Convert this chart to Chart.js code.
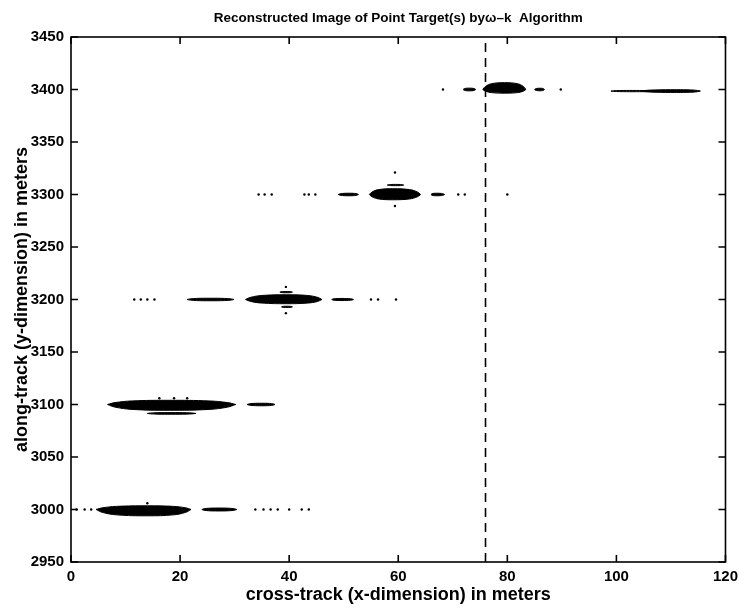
<!DOCTYPE html>
<html>
<head>
<meta charset="utf-8">
<title>Reconstructed Image of Point Target(s)</title>
<script src="https://cdn.jsdelivr.net/npm/chart.js@4.4.1/dist/chart.umd.min.js"></script>
<style>
  html, body { margin: 0; padding: 0; background: #fff; }
  canvas { display: block; }
</style>
</head>
<body>
<canvas id="wkChart" width="744" height="608"></canvas>
<script>
const chartTitle = 'Reconstructed Image of Point Target(s) by\u03c9\u2013k  Algorithm';
const xTicks = [0, 20, 40, 60, 80, 100, 120];
const yTicks = [2950, 3000, 3050, 3100, 3150, 3200, 3250, 3300, 3350, 3400, 3450];
const cutX = 76;

// streaks: [start x, end x, peak x, row y, half height above, half height below]
const streaks = [
  [4.6, 22.0, 14.0, 3000, 3.5, 6.0],
  [24.0, 30.4, 27.0, 3000, 1.4, 1.4],
  [6.7, 30.2, 18.0, 3100, 4.0, 5.5],
  [14.0, 22.9, 18.5, 3091.5, 0.8, 0.8],
  [32.3, 37.4, 35.0, 3100, 1.2, 1.2],
  [32.0, 46.0, 39.5, 3200, 4.5, 4.0],
  [21.3, 29.9, 25.5, 3200, 1.2, 1.2],
  [47.8, 51.8, 49.5, 3200, 1.0, 1.0],
  [38.3, 40.6, 39.4, 3207, 0.6, 0.6],
  [38.6, 40.6, 39.6, 3193, 0.6, 0.6],
  [54.7, 64.1, 59.0, 3300, 5.5, 5.0],
  [49.0, 52.7, 51.0, 3300, 1.2, 1.2],
  [66.0, 68.5, 67.0, 3300, 1.2, 1.2],
  [58.0, 61.0, 59.5, 3309, 0.6, 0.6],
  [75.5, 83.4, 79.5, 3400, 6.5, 3.5],
  [71.9, 74.2, 73.0, 3400, 1.3, 1.3],
  [85.0, 86.8, 86.0, 3400, 1.2, 1.2],
  [99.0, 107.0, 103.0, 3398.5, 0.6, 0.6],
  [104.5, 115.4, 111.0, 3398.5, 1.3, 1.3]
];

// isolated specks around the targets
const speckX = [1.0, 2.5, 3.7, 14.0, 33.8, 35.3, 36.6, 37.9, 40.0, 42.3, 43.6,
                16.2, 18.9, 21.3,
                11.6, 12.8, 14.0, 15.3, 55.0, 56.3, 59.6, 39.4, 39.4,
                34.4, 35.5, 36.8, 42.8, 43.6, 44.8, 71.0, 72.2, 59.4, 59.4, 80.0,
                68.2, 89.8];
const speckY = [3000, 3000, 3000, 3006, 3000, 3000, 3000, 3000, 3000, 3000, 3000,
                3106, 3106, 3106,
                3200, 3200, 3200, 3200, 3200, 3200, 3200, 3212, 3187,
                3300, 3300, 3300, 3300, 3300, 3300, 3300, 3300, 3321, 3289, 3300,
                3400, 3400];

Chart.defaults.font.family = '"Liberation Sans", Arial, sans-serif';
Chart.defaults.color = '#000';

// rounded edge profile of a streak: fraction along each half -> fraction of thickness
const edgeAlong = [0, 0.12, 0.4, 1];
const edgeThick = [0, 0.45, 0.85, 1];

function streakEdge(x0, x1, xp, y, h) {
  const pts = [];
  edgeAlong.forEach((f, i) => pts.push({ x: x0 + f * (xp - x0), y: y + edgeThick[i] * h }));
  for (let i = edgeAlong.length - 2; i >= 0; i--) {
    pts.push({ x: x1 - edgeAlong[i] * (x1 - xp), y: y + edgeThick[i] * h });
  }
  return pts;
}

const datasets = [];
streaks.forEach(([x0, x1, xp, y, up, down]) => {
  const edge = {
    type: 'line',
    borderColor: '#000',
    backgroundColor: '#000',
    borderWidth: 1,
    pointRadius: 0,
    tension: 0.4
  };
  datasets.push(Object.assign({}, edge, { data: streakEdge(x0, x1, xp, y, up), fill: false }));
  datasets.push(Object.assign({}, edge, { data: streakEdge(x0, x1, xp, y, -down), fill: '-1' }));
});

datasets.push({
  type: 'scatter',
  data: speckX.map((x, i) => ({ x: x, y: speckY[i] })),
  backgroundColor: '#000',
  borderWidth: 0,
  pointRadius: 1.2
});

datasets.push({
  type: 'line',
  data: [{ x: cutX, y: yTicks[0] }, { x: cutX, y: yTicks[yTicks.length - 1] }],
  borderColor: '#000',
  borderWidth: 1.6,
  borderDash: [9, 6],
  pointRadius: 0,
  fill: false
});

// box around the plot, ticks pointing inward on all four sides,
// and the title centred over the axes
const boxTicks = {
  id: 'boxTicks',
  afterDraw(chart) {
    const { ctx, chartArea: a, scales } = chart;
    const len = 7;
    ctx.save();
    ctx.strokeStyle = '#000';
    ctx.lineWidth = 1.6;
    ctx.strokeRect(a.left, a.top, a.right - a.left, a.bottom - a.top);
    ctx.beginPath();
    xTicks.forEach(v => {
      const px = scales.x.getPixelForValue(v);
      ctx.moveTo(px, a.bottom); ctx.lineTo(px, a.bottom - len);
      ctx.moveTo(px, a.top); ctx.lineTo(px, a.top + len);
    });
    yTicks.forEach(v => {
      const py = scales.y.getPixelForValue(v);
      ctx.moveTo(a.left, py); ctx.lineTo(a.left + len, py);
      ctx.moveTo(a.right, py); ctx.lineTo(a.right - len, py);
    });
    ctx.stroke();

    ctx.fillStyle = '#000';
    ctx.font = 'bold 13.5px "Liberation Sans", Arial, sans-serif';
    ctx.textAlign = 'center';
    ctx.textBaseline = 'middle';
    ctx.fillText(chartTitle, (a.left + a.right) / 2, 18);
    ctx.restore();
  }
};

new Chart(document.getElementById('wkChart'), {
  type: 'scatter',
  data: { datasets: datasets },
  options: {
    responsive: false,
    animation: false,
    layout: { padding: { left: 0, right: 15, top: 37, bottom: 0 } },
    plugins: {
      legend: { display: false },
      tooltip: { enabled: false },
      title: { display: false }
    },
    scales: {
      x: {
        type: 'linear',
        min: 0,
        max: 120,
        afterBuildTicks: axis => { axis.ticks = xTicks.map(v => ({ value: v })); },
        afterFit: axis => { axis.height = 46; },
        grid: { display: false, drawTicks: false },
        border: { display: false },
        ticks: { color: '#000', font: { size: 15, weight: 'bold' }, padding: 6, maxRotation: 0,
                 callback: v => String(v) },
        title: {
          display: true,
          text: 'cross-track (x-dimension) in meters',
          color: '#000',
          font: { size: 18, weight: 'bold' },
          padding: { top: 0, bottom: 2 }
        }
      },
      y: {
        type: 'linear',
        min: 2950,
        max: 3450,
        afterBuildTicks: axis => { axis.ticks = yTicks.map(v => ({ value: v })); },
        afterFit: axis => { axis.width = 71; },
        grid: { display: false, drawTicks: false },
        border: { display: false },
        ticks: { color: '#000', font: { size: 15, weight: 'bold' }, padding: 7,
                 callback: v => String(v) },
        title: {
          display: true,
          text: 'along-track (y-dimension) in meters',
          color: '#000',
          font: { size: 18, weight: 'bold' },
          padding: { top: 11, bottom: 0 }
        }
      }
    }
  },
  plugins: [boxTicks]
});
</script>
</body>
</html>
